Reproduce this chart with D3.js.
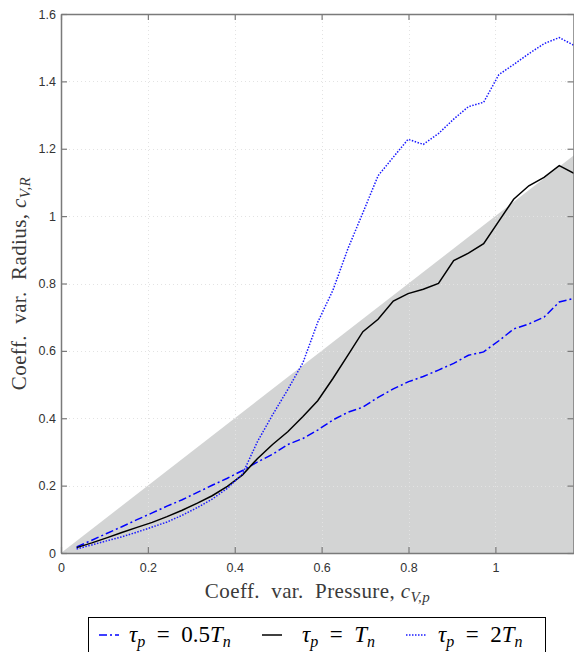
<!DOCTYPE html>
<html><head><meta charset="utf-8">
<script src="https://cdn.jsdelivr.net/npm/d3@7"></script>
<style>
html,body{margin:0;padding:0;background:#fff;}
svg{display:block;}
</style>
</head><body>
<svg id="chart" width="574" height="652"></svg>
<script>
// ---- data ----
const cvP = [0.036,0.071,0.105,0.140,0.175,0.210,0.244,0.279,0.314,0.348,0.383,0.418,0.452,0.487,0.522,0.557,0.591,0.626,0.661,0.695,0.730,0.765,0.799,0.834,0.869,0.904,0.938,0.973,1.008,1.042,1.077,1.112,1.147,1.181];
const cvR_half = [0.018,0.038,0.058,0.078,0.099,0.119,0.139,0.158,0.180,0.201,0.222,0.245,0.270,0.293,0.322,0.340,0.365,0.395,0.418,0.433,0.462,0.487,0.508,0.524,0.543,0.563,0.587,0.597,0.630,0.665,0.680,0.700,0.745,0.756];
const cvR_one = [0.016,0.030,0.045,0.061,0.076,0.091,0.108,0.127,0.148,0.170,0.198,0.232,0.280,0.322,0.360,0.405,0.452,0.518,0.588,0.657,0.694,0.748,0.770,0.783,0.800,0.868,0.890,0.918,0.985,1.050,1.090,1.115,1.150,1.127];
const cvR_two = [0.012,0.024,0.036,0.048,0.062,0.077,0.092,0.112,0.135,0.160,0.192,0.235,0.330,0.410,0.485,0.565,0.685,0.780,0.905,1.010,1.120,1.175,1.228,1.213,1.245,1.288,1.325,1.338,1.420,1.450,1.482,1.512,1.530,1.507];
const xTicks = [0,0.2,0.4,0.6,0.8,1];
const yTicks = [0,0.2,0.4,0.6,0.8,1,1.2,1.4,1.6];
const xDomain = [0,1.181];
const yDomain = [0,1.6];
const legendCoefs = ["0.5","","2"];

const svg = d3.select("#chart");
const L=61, R=574, T=14, B=553;
const x = d3.scaleLinear().domain(xDomain).range([L,R]);
const y = d3.scaleLinear().domain(yDomain).range([B,T]);

svg.append("defs").append("clipPath").attr("id","clip")
  .append("rect").attr("x",L).attr("y",T).attr("width",R-L).attr("height",B-T);

// gray patch: region below y = x
const xm = xDomain[1];
const patch = [[0,0],[xm,xm],[xm,0]];
svg.append("path")
  .attr("clip-path","url(#clip)")
  .attr("d", d3.line().x(d=>x(d[0])).y(d=>y(d[1]))(patch)+"Z")
  .attr("fill","#d3d4d4");

// grid
const grid = svg.append("g").attr("stroke","#e3e3e3").attr("stroke-width",1).attr("stroke-dasharray","1,3");
xTicks.slice(1).forEach(t=>grid.append("line").attr("x1",Math.round(x(t))+0.5).attr("x2",Math.round(x(t))+0.5).attr("y1",T).attr("y2",B));
yTicks.slice(1,-1).forEach(t=>grid.append("line").attr("y1",Math.round(y(t))+0.5).attr("y2",Math.round(y(t))+0.5).attr("x1",L).attr("x2",R));

// lines
const line = d3.line().x((d,i)=>x(cvP[i])).y(d=>y(d));
const g = svg.append("g").attr("clip-path","url(#clip)").attr("fill","none");
g.append("path").attr("d",line(cvR_half)).attr("stroke","#0000ff").attr("stroke-width",1.5).attr("stroke-dasharray","8,3,2,3");
g.append("path").attr("d",line(cvR_one)).attr("stroke","#000").attr("stroke-width",1.5);
g.append("path").attr("d",line(cvR_two)).attr("stroke","#1a1aff").attr("stroke-width",1.5).attr("stroke-dasharray","1.5,1.5");

// axes
const axCol = "#7a7a7a";
const xAxis = d3.axisBottom(x).tickValues(xTicks).tickSizeInner(-6).tickSizeOuter(0).tickPadding(10).tickFormat(d3.format("~g"));
const yAxis = d3.axisLeft(y).tickValues(yTicks).tickSizeInner(-6).tickSizeOuter(0).tickPadding(5).tickFormat(d3.format("~g"));
const gx = svg.append("g").attr("transform",`translate(0,${B})`).call(xAxis);
const gy = svg.append("g").attr("transform",`translate(${L},0)`).call(yAxis);
const gxt = svg.append("g").attr("transform",`translate(0,${T})`).call(d3.axisTop(x).tickValues(xTicks).tickSizeInner(-6).tickSizeOuter(0).tickFormat(""));
const gyr = svg.append("g").attr("transform",`translate(${R-0.5},0)`).call(d3.axisRight(y).tickValues(yTicks).tickSizeInner(-6).tickSizeOuter(0).tickFormat(""));
[gx,gy,gxt,gyr].forEach(a=>{
  a.select(".domain").attr("stroke",axCol).attr("stroke-width",1.5);
  a.selectAll(".tick line").attr("stroke",axCol).attr("stroke-width",1.2);
  a.selectAll(".tick text").attr("fill","#333").attr("font-family","'Liberation Sans',Arial,sans-serif").attr("font-size","12.5px");
});

// axis labels
const serif = "'Liberation Serif','DejaVu Serif',serif";
const sp = "\u00a0\u00a0";
const xl = svg.append("text").attr("x",(L+R)/2).attr("y",598).attr("text-anchor","middle")
  .attr("font-family",serif).attr("font-size","21px").attr("letter-spacing","0.4px").attr("fill","#3a3a3a");
xl.append("tspan").text("Coeff."+sp+"var."+sp+"Pressure,\u00a0");
xl.append("tspan").attr("font-style","italic").text("c");
xl.append("tspan").attr("font-style","italic").attr("font-size","15px").attr("dy",4).text("V,p");

const yl = svg.append("text").attr("transform",`translate(26,${(T+B)/2}) rotate(-90)`).attr("text-anchor","middle")
  .attr("font-family",serif).attr("font-size","21px").attr("letter-spacing","0.4px").attr("fill","#3a3a3a");
yl.append("tspan").text("Coeff."+sp+"var."+sp+"Radius,\u00a0");
yl.append("tspan").attr("font-style","italic").text("c");
yl.append("tspan").attr("font-style","italic").attr("font-size","15px").attr("dy",4).text("V,R");

// legend
const lg = svg.append("g");
lg.append("rect").attr("x",88.5).attr("y",617.5).attr("width",457).attr("height",40).attr("fill","#fff").attr("stroke","#000").attr("stroke-width",1);
const legendItems = [
  {lx:99, tx:129, dash:"8,3,2,3", col:"#0000ff", coef:legendCoefs[0]},
  {lx:262, tx:302, dash:null, col:"#000", coef:legendCoefs[1]},
  {lx:406, tx:438, dash:"1.5,1.5", col:"#1a1aff", coef:legendCoefs[2]}
];
const ly = 635;
legendItems.forEach(it=>{
  const l = lg.append("line").attr("x1",it.lx).attr("x2",it.lx+20).attr("y1",ly).attr("y2",ly).attr("stroke",it.col).attr("stroke-width",1.5);
  if(it.dash) l.attr("stroke-dasharray",it.dash);
  const t = lg.append("text").attr("x",it.tx).attr("y",ly+7).attr("font-family",serif).attr("font-size","23px").attr("fill","#000");
  t.append("tspan").attr("font-style","italic").text("τ");
  t.append("tspan").attr("font-style","italic").attr("font-size","16px").attr("dy",5).text("p");
  t.append("tspan").attr("dy",-5).text("\u2002=\u2002"+it.coef);
  t.append("tspan").attr("font-style","italic").text("T");
  t.append("tspan").attr("font-style","italic").attr("font-size","16px").attr("dy",5).text("n");
});
</script>
</body></html>
